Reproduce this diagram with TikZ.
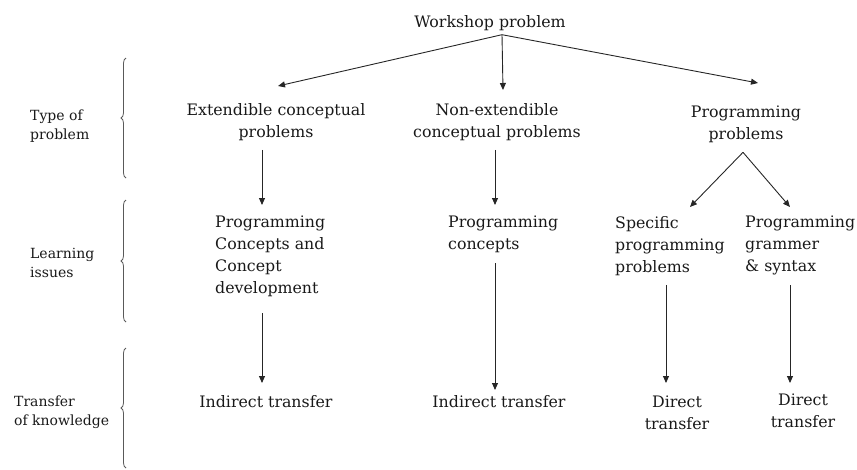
\documentclass[tikz,border=0pt]{standalone}
\usepackage{fontspec}
\setmainfont{DejaVu Serif}
\usetikzlibrary{arrows.meta,decorations.pathreplacing}
\begin{document}
\begin{tikzpicture}[x=1pt,y=1pt,
  main/.style={font=\fontsize{15.8}{22}\selectfont, inner sep=0pt, text=black!90},
  lab/.style={font=\fontsize{14}{19}\selectfont, inner sep=0pt, align=left, anchor=north west, text=black!90},
  arr/.style={draw=black!85, line width=0.9pt, -{Triangle[length=7pt,width=6pt]}},
  brc/.style={draw=black!65, line width=0.8pt, decorate, decoration={brace,amplitude=5pt}}]
\useasboundingbox (0,0) rectangle (857,-469);

% left labels and braces
\node[lab] (l1) at (30,-110) {Type of\\problem};
\node[lab] (l2) at (30,-247.5) {Learning\\issues};
\node[lab] (l3) at (14,-395.5) {Transfer\\of knowledge};
\draw[brc] (126,-178) -- (126,-58);
\draw[brc] (126,-322) -- (126,-200);
\draw[brc] (126,-468) -- (126,-348);

% top
\node[main, anchor=north] (wp) at (490,-15) {Workshop problem};
\coordinate (wpo) at ([shift={(12,-4)}]wp.south);

% type of problem
\node[main, anchor=north, align=center] (ext) at (276,-103) {Extendible conceptual\\problems};
\node[main, anchor=north, align=center] (next) at (497,-103) {Non-extendible\\conceptual problems};
\node[main, anchor=north, align=center] (pp) at (746,-106) {Programming\\problems};

% learning issues
\node[main, anchor=north west, align=left] (pcd) at (215,-216) {Programming\\Concepts and\\Concept\\development};
\node[main, anchor=north west, align=left] (pc) at (448,-216) {Programming\\concepts};
\node[main, anchor=north west, align=left] (spp) at (615,-216) {Specific\\programming\\problems};
\node[main, anchor=north west, align=left] (pgs) at (745,-216) {Programming\\grammer\\\& syntax};

% transfer
\node[main, anchor=north] (it1) at (266,-395) {Indirect transfer};
\node[main, anchor=north] (it2) at (499,-395) {Indirect transfer};
\node[main, anchor=north, align=center] (dt1) at (677,-396) {Direct\\transfer};
\node[main, anchor=north, align=center] (dt2) at (803,-394) {Direct\\transfer};

% connectors
\draw[arr] (wpo) -- ([shift={(2,17)}]ext.north);
\draw[arr] (wpo) -- ([shift={(6,13)}]next.north);
\draw[arr] (wpo) -- ([shift={(12,23)}]pp.north);

\draw[arr] ([shift={(-14,-9.3)}]ext.south) -- ([shift={(47,11)}]pcd.north west);
\draw[arr] ([shift={(-2,-9.3)}]next.south) -- ([shift={(47,11)}]pc.north west);
\draw[arr] ([shift={(-3,-9)}]pp.south) -- ([shift={(75,9)}]spp.north west);
\draw[arr] ([shift={(-3,-9)}]pp.south) -- ([shift={(45,9)}]pgs.north west);

\draw[arr] ([shift={(47,-15.8)}]pcd.south west) -- ([shift={(-4,12)}]it1.north);
\draw[arr] ([shift={(47,-9.8)}]pc.south west) -- ([shift={(-4,5)}]it2.north);
\draw[arr] ([shift={(51,-9.3)}]spp.south west) -- ([shift={(-11,13)}]dt1.north);
\draw[arr] ([shift={(45,-9.8)}]pgs.south west) -- ([shift={(-13,11)}]dt2.north);
\end{tikzpicture}
\end{document}
